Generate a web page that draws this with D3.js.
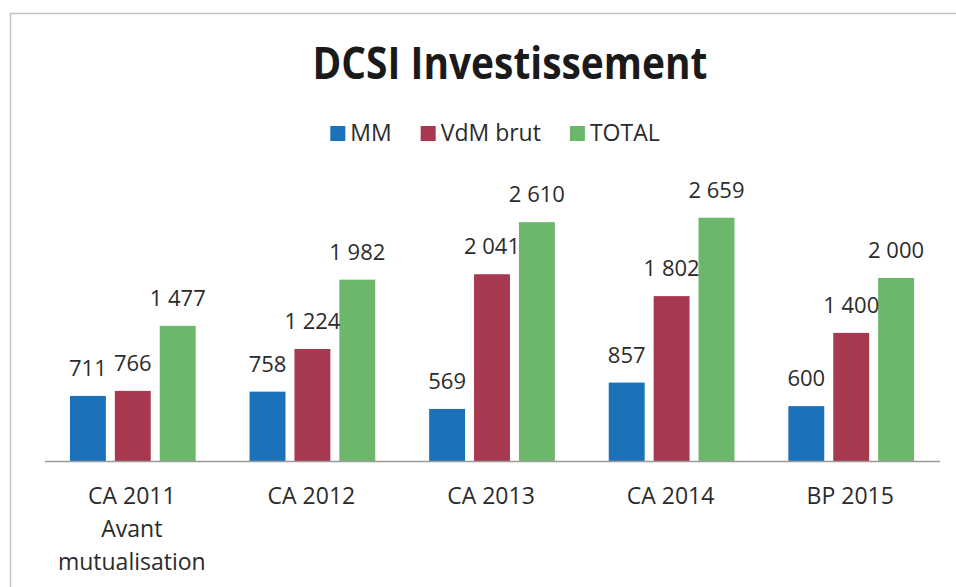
<!DOCTYPE html>
<html lang="fr">
<head>
<meta charset="utf-8">
<title>DCSI Investissement</title>
<style>
  body { margin: 0; background: #fff; }
  text { font-family: "Open Sans", sans-serif; }
</style>
</head>
<body>
<script src="https://d3js.org/d3.v7.min.js"></script>
<div id="chart"></div>
<script>
// values
var categories = ["CA 2011\nAvant\nmutualisation", "CA 2012", "CA 2013", "CA 2014", "BP 2015"];
var seriesNames = ["MM", "VdM brut", "TOTAL"];
var mm = [711, 758, 569, 857, 600];
var vdmBrut = [766, 1224, 2041, 1802, 1400];
var total = [1477, 1982, 2610, 2659, 2000];
var colors = ["#1b72b9", "#a8384f", "#6cb76b"];

var width = 956, height = 587;
var series = [mm, vdmBrut, total];

var svg = d3.select("#chart")
    .append("svg")
    .attr("width", width)
    .attr("height", height);

// scanned frame (only top and left edges are visible)
svg.append("rect")
    .attr("x", 10.5).attr("y", 13.5)
    .attr("width", 1000).attr("height", 700)
    .attr("fill", "#fff")
    .attr("stroke", "#c4c4c4")
    .attr("stroke-width", 1.5);

// title
svg.append("text")
    .attr("x", 510).attr("y", 79)
    .attr("text-anchor", "middle")
    .attr("textLength", 395)
    .attr("lengthAdjust", "spacingAndGlyphs")
    .style("font-size", "44px")
    .style("font-weight", "bold")
    .style("fill", "#1a1a1a")
    .text("DCSI Investissement");

// legend
var legend = svg.append("g");
var lx = 0;
seriesNames.forEach(function(name, i) {
    var item = legend.append("g").attr("transform", "translate(" + lx + ",0)");
    item.append("rect")
        .attr("x", 0).attr("y", -15)
        .attr("width", 15).attr("height", 15)
        .attr("fill", colors[i]);
    var t = item.append("text")
        .attr("x", 20).attr("y", 0)
        .style("font-size", "23px")
        .style("fill", "#2b2b2b")
        .text(name);
    lx += 20 + t.node().getComputedTextLength() + 29;
});
lx -= 29;
legend.attr("transform", "translate(" + (495 - lx / 2) + ",141)");

// scales
var x0 = d3.scaleBand()
    .domain(categories)
    .range([43, 941])
    .paddingInner(0.3)
    .paddingOuter(0.15);

var x1 = d3.scaleBand()
    .domain(d3.range(seriesNames.length))
    .range([0, x0.bandwidth()])
    .paddingInner(0.2);

var y = d3.scaleLinear()
    .domain([0, 3000])
    .range([461, 186.5]);

var fmt = d3.formatLocale({decimal: ",", thousands: " ", grouping: [3], currency: ["", " €"]}).format(",d");

// bars
var groups = svg.append("g")
    .selectAll("g")
    .data(categories)
    .enter()
    .append("g")
    .attr("transform", function(d) { return "translate(" + x0(d) + ",0)"; });

groups.selectAll("rect")
    .data(function(d, ci) { return series.map(function(s, si) { return {si: si, v: s[ci]}; }); })
    .enter()
    .append("rect")
    .attr("x", function(d) { return x1(d.si); })
    .attr("y", function(d) { return y(d.v); })
    .attr("width", x1.bandwidth())
    .attr("height", function(d) { return y(0) - y(d.v); })
    .attr("fill", function(d) { return colors[d.si]; });

groups.selectAll("text")
    .data(function(d, ci) { return series.map(function(s, si) { return {si: si, v: s[ci]}; }); })
    .enter()
    .append("text")
    .attr("x", function(d) { return x1(d.si) + x1.bandwidth() / 2; })
    .attr("y", function(d) { return y(d.v) - 20; })
    .attr("text-anchor", "middle")
    .style("font-size", "22px")
    .style("fill", "#2b2b2b")
    .text(function(d) { return fmt(d.v); });

// x axis
var xAxis = svg.append("g")
    .attr("transform", "translate(0," + y(0) + ")")
    .call(d3.axisBottom(x0).tickSize(0).tickFormat(""));
xAxis.select(".domain")
    .attr("d", "M45,0.5H940")
    .attr("stroke", "#9a9a9a")
    .attr("stroke-width", 1.5);

xAxis.selectAll(".tick").each(function(d) {
    var t = d3.select(this).append("text")
        .attr("text-anchor", "middle")
        .style("font-size", "23px")
        .style("fill", "#2b2b2b");
    d.split("\n").forEach(function(line, i) {
        t.append("tspan")
            .attr("x", -1)
            .attr("y", 43 + i * 33)
            .text(line);
    });
});
</script>
</body>
</html>
